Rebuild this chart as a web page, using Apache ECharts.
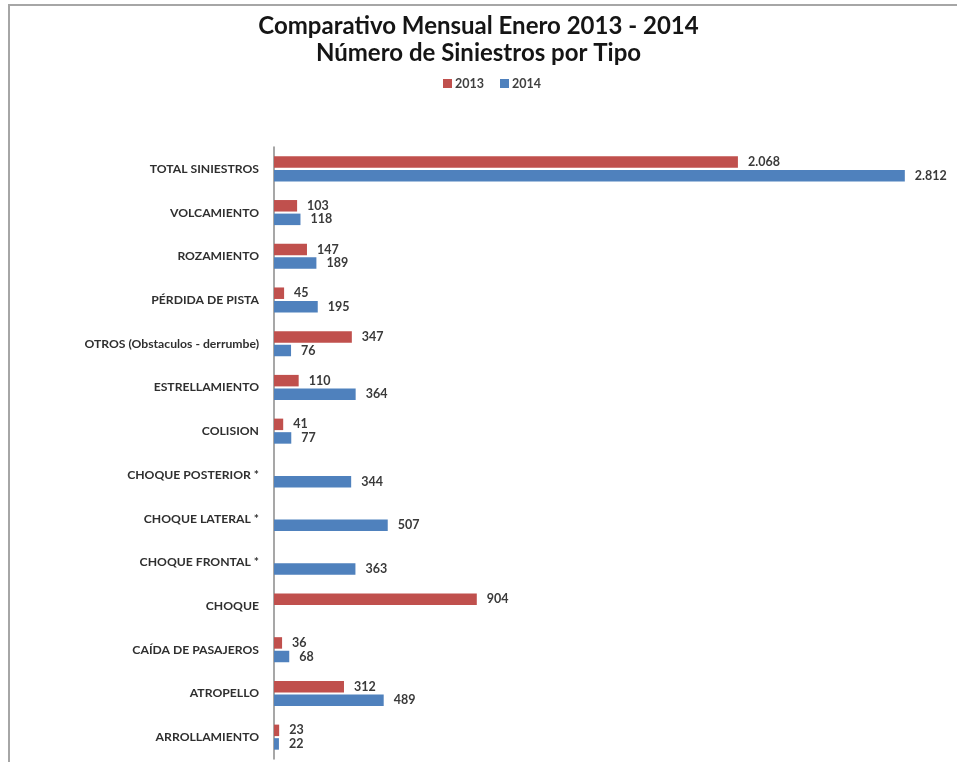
<!DOCTYPE html>
<html>
<head>
<meta charset="utf-8">
<script src="https://cdn.jsdelivr.net/npm/echarts@6/dist/echarts.min.js"></script>
<style>
  html, body { margin: 0; padding: 0; background: #fff; }
  #chart { position: absolute; left: 0; top: 0; width: 957px; height: 762px; }
  #frame { position: absolute; left: 8px; top: 4px; width: 960px; height: 770px;
           border-left: 2px solid #a6a6a6; border-top: 2px solid #a6a6a6; pointer-events: none; }
</style>
</head>
<body>
<div id="chart"></div>
<div id="frame"></div>
<script>
// Accident types, listed top to bottom
const categories = [
  'TOTAL SINIESTROS',
  'VOLCAMIENTO',
  'ROZAMIENTO',
  'PÉRDIDA DE PISTA',
  'OTROS (Obstaculos - derrumbe)',
  'ESTRELLAMIENTO',
  'COLISION',
  'CHOQUE POSTERIOR *',
  'CHOQUE LATERAL *',
  'CHOQUE FRONTAL *',
  'CHOQUE',
  'CAÍDA DE PASAJEROS',
  'ATROPELLO',
  'ARROLLAMIENTO'
];

// January counts per year (null = not recorded that year)
const values2013 = [2068, 103, 147, 45, 347, 110, 41, null, null, null, 904, 36, 312, 23];
const values2014 = [2812, 118, 189, 195, 76, 364, 77, 344, 507, 363, null, 68, 489, 22];

const seriesNames = ['2013', '2014'];

const FONT = 'Lato, "Open Sans", sans-serif';

// Thousands separator as a dot: 2068 -> 2.068
function fmt(v) {
  return String(v).replace(/\B(?=(\d{3})+(?!\d))/g, '.');
}

const chart = echarts.init(document.getElementById('chart'), null, { renderer: 'canvas' });

const labelStyle = {
  show: true,
  position: 'right',
  distance: 10,
  color: '#3a3a3a',
  fontFamily: FONT,
  fontWeight: 'bold',
  fontSize: 12.5,
  formatter: p => fmt(p.value)
};

chart.setOption({
  animation: false,
  backgroundColor: '#ffffff',
  title: {
    text: 'Comparativo Mensual Enero 2013 - 2014\nNúmero de Siniestros por Tipo',
    left: 'center',
    top: 8,
    textStyle: {
      fontFamily: FONT,
      fontWeight: 'bold',
      fontSize: 24,
      lineHeight: 27,
      color: '#151515'
    }
  },
  legend: {
    data: seriesNames,
    top: 77,
    left: 443,
    padding: 0,
    itemWidth: 9,
    itemHeight: 9,
    itemGap: 16,
    icon: 'rect',
    textStyle: {
      fontFamily: FONT,
      fontWeight: 'bold',
      fontSize: 12.5,
      color: '#404040',
      padding: [0, 0, 0, -2]
    }
  },
  grid: {
    left: 274,
    top: 147,
    width: 673,
    height: 612,
    containLabel: false
  },
  xAxis: {
    type: 'value',
    min: 0,
    max: 3000,
    show: false
  },
  yAxis: {
    type: 'category',
    data: categories,
    inverse: true,
    axisTick: { show: false },
    axisLine: { show: true, lineStyle: { color: '#8a8a8a', width: 1.5 } },
    axisLabel: {
      margin: 15,
      color: '#2f2f2f',
      fontFamily: FONT,
      fontWeight: 'bold',
      fontSize: 12.2
    },
    splitLine: { show: false }
  },
  series: [
    {
      name: seriesNames[0],
      type: 'bar',
      data: values2013,
      barWidth: 11.5,
      barGap: '18%',
      itemStyle: { color: '#C0504D' },
      label: labelStyle
    },
    {
      name: seriesNames[1],
      type: 'bar',
      data: values2014,
      barWidth: 11.5,
      barGap: '18%',
      itemStyle: { color: '#4F81BD' },
      label: labelStyle
    }
  ]
});
</script>
</body>
</html>
